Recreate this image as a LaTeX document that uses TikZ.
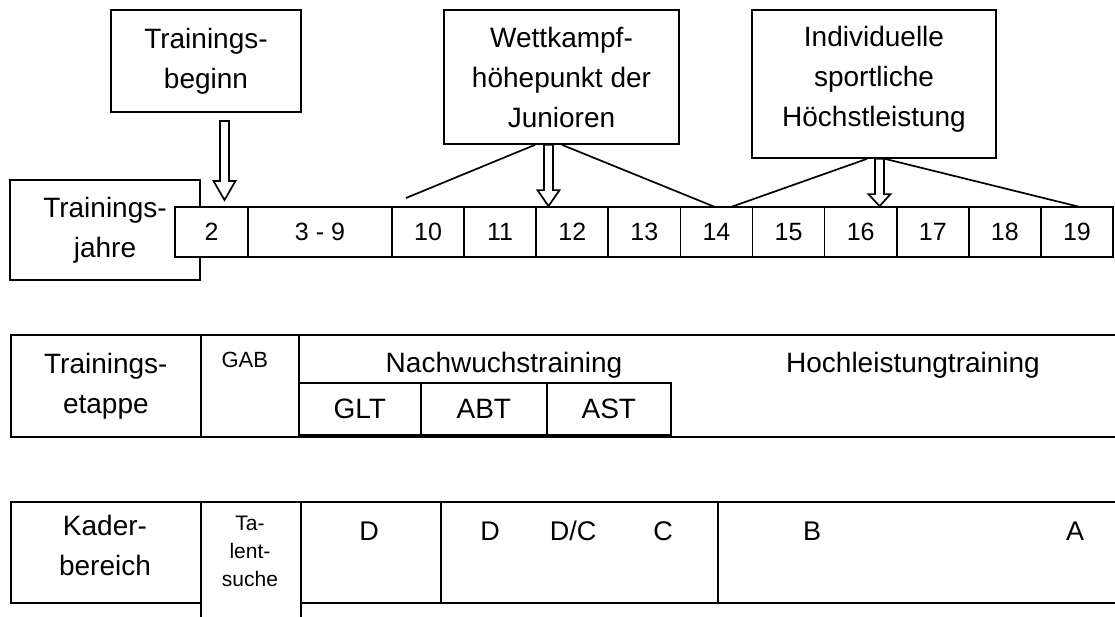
\documentclass[tikz,border=0pt]{standalone}
\usepackage{fontspec}
\setmainfont{Liberation Sans}
\usetikzlibrary{calc, positioning}
\newcommand{\bigtxt}{\fontsize{28}{40}\selectfont}
\newcommand{\numtxt}{\fontsize{25}{30}\selectfont}
\newcommand{\smalltxt}{\fontsize{21}{28}\selectfont}
\newcommand{\hollowarrow}[3]{%
  \draw[fill=white, line join=miter]
    ($#1+(-4.5,0)$) -- ($#2+(-4.5,-#3)$) -- ($#2+(-11,-#3)$) -- #2
    -- ($#2+(11,-#3)$) -- ($#2+(4.5,-#3)$) -- ($#1+(4.5,0)$) -- cycle;
}

\begin{document}
\begin{tikzpicture}[x=1pt, y=-1pt, line width=1.7pt,
    cell/.style={draw, fill=white, inner sep=0pt, font=\numtxt},
    box/.style={draw, fill=white, inner sep=0pt, align=center, font=\bigtxt}]
  \useasboundingbox (0,0) rectangle (1115,617);
  \clip (0,0) rectangle (1115,617);
  % top labels
  \node[box, minimum width=190pt, minimum height=102pt] (beginn) at (206,61)
    {Trainings-\\beginn};
  \node[box, minimum width=235pt, minimum height=134pt] (wettk) at (561.5,77)
    {Wettkampf-\\höhepunkt der\\Junioren};
  \node[box, minimum width=244pt, minimum height=148pt] (hoechst) at (874,84) {};
  \node[font=\bigtxt, align=center] (hoechsttxt) at (874,79)
    {Individuelle\\sportliche\\Höchstleistung};
  % years
  \node[box, minimum width=190pt, minimum height=100pt] (jahre) at (105,230)
    {Trainings-\\jahre};
  \node[cell, minimum width=73pt, minimum height=50pt] (y2) at (211.5,232) {2};
  \node[cell, minimum width=144pt, minimum height=50pt] (y3) at (320,232) {3 - 9};
  \foreach \k in {10,...,19}
    \node[cell, minimum width=72.1pt, minimum height=50pt] (y\k)
      at ({428.05+72.1*(\k-10)},232) {\k};
  % spans
  \coordinate (wkL) at (406,198);
  \coordinate (wkR) at (715,207);
  \coordinate (hsL) at (731,207);
  \coordinate (hsR) at (1080,207);
  \draw ($(wettk.south)+(-26.5,0)$) -- (wkL);
  \draw ($(wettk.south)+(0.5,0)$) -- (wkR);
  \draw ($(hoechst.south)+(-7,0)$) -- (hsL);
  \draw ($(hoechst.south)+(11,0)$) -- (hsR);
  % arrows
  \coordinate (a1s) at (224.5,121);
  \coordinate (a1e) at (224.5,200);
  \coordinate (a2s) at ($(wettk.south)+(-13,0)$);
  \coordinate (a2e) at (a2s |- y12.north);
  \coordinate (a3s) at ($(hoechst.south)+(5.5,0)$);
  \coordinate (a3e) at (a3s |- y16.north);
  \hollowarrow{(a1s)}{(a1e)}{19}
  \hollowarrow{(a2s)}{(a2e)}{16}
  \hollowarrow{(a3s)}{(a3e)}{12}
  % stages
  \node[box, anchor=north west, minimum width=190pt, minimum height=102pt]
    (etappe) at (10,334) {Trainings-\\etappe};
  \node[cell, anchor=north west, minimum width=98pt, minimum height=102pt]
    (gabcell) at (200,334) {};
  \node[font=\fontsize{22}{26}\selectfont, inner sep=0pt,
    below=17pt of gabcell.north, xshift=-5pt] (gab) {GAB};
  \node[cell, anchor=north west, minimum width=822pt, minimum height=102pt]
    (hlcell) at (298,334) {};
  \foreach \nm/\txt/\l/\w in {glt/GLT/298/122, abt/ABT/420/126, ast/AST/546/124}
    \node[cell, font=\bigtxt, anchor=south west, minimum width=\w pt,
      minimum height=52pt] (\nm) at (\l,436) {\txt};
  \node[font=\bigtxt] (nachw) at (504,365) {Nachwuchstraining};
  \node[font=\bigtxt] (hochl) at (913,365) {Hochleistungtraining};
  % squad
  \node[cell, anchor=north west, minimum width=190pt, minimum height=101pt]
    (kader) at (10,501) {};
  \node[font=\bigtxt, align=center] (kadertxt) at (105,545) {Kader-\\bereich};
  \node[cell, anchor=north west, minimum width=100pt, minimum height=130pt]
    (talent) at (200,501) {};
  \node[font=\smalltxt, align=center] (talenttxt) at (250,551)
    {Ta-\\lent-\\suche};
  \node[cell, anchor=north west, minimum width=140pt, minimum height=101pt]
    (kd) at (300,501) {};
  \node[cell, anchor=north west, minimum width=277pt, minimum height=101pt]
    (kdc) at (440,501) {};
  \node[cell, anchor=north west, minimum width=403pt, minimum height=101pt]
    (kba) at (717,501) {};
  \foreach \nm/\txt/\x in {ld/D/369, ldd/D/490, ldc/{D/C}/573, lc/C/663,
      lb/B/812, la/A/1075}
    \node[font=\fontsize{27}{30}\selectfont] (\nm) at (\x,531) {\txt};
\end{tikzpicture}
\end{document}
